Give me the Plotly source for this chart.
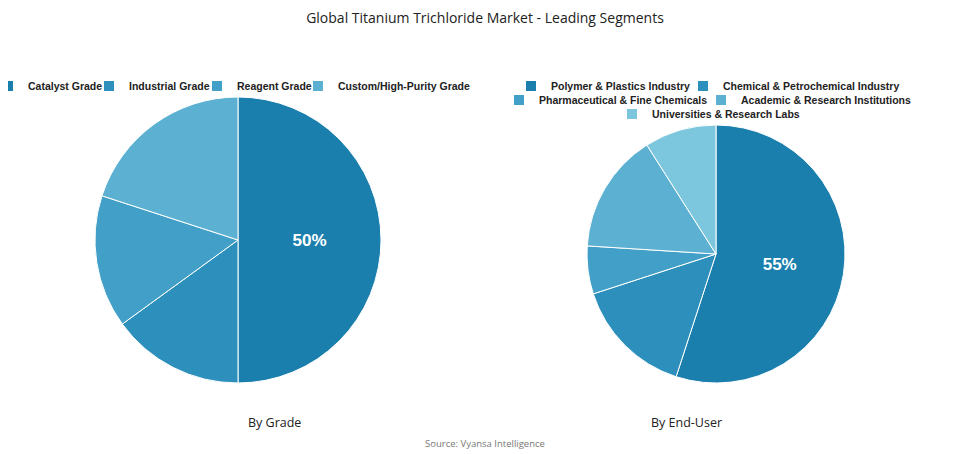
import plotly.graph_objects as go

grade_labels = ["Catalyst Grade", "Industrial Grade", "Reagent Grade", "Custom/High-Purity Grade"]
grade_values = [50, 15, 15, 20]
user_labels = ["Polymer & Plastics Industry", "Chemical & Petrochemical Industry",
               "Pharmaceutical & Fine Chemicals", "Academic & Research Institutions",
               "Universities & Research Labs"]
user_values = [55, 15, 6, 15, 9]

colors = ["#1b7fae", "#2d8fbb", "#42a0c8", "#5cb1d2", "#7cc6de"]

# left edge of each legend swatch (x) and its row (y), in pixels
grade_leg_pos = [(4, 87), (105, 87), (213, 87), (314, 87)]
user_leg_pos = [(527, 87), (699, 87), (515, 101), (717, 101), (628, 115)]

W, H = 955, 454
OX, OY = 8, 7  # pie domain offset seen in the render


def px(x):
    return x / W


def py(y):
    return 1 - y / H


def dom(x0, x1, y0, y1):
    return dict(x=[px(x0 - OX), px(x1 - OX)], y=[py(y1 - OY), py(y0 - OY)])


def first_only(vals):
    return ["%{percent:.0%}"] + [""] * (len(vals) - 1)


legfont = dict(size=10.5, color="#222", family="Liberation Sans")

fig = go.Figure()
fig.add_trace(go.Pie(
    labels=grade_labels, values=grade_values, sort=False, direction="clockwise",
    rotation=0, domain=dom(95, 381, 96, 382), marker=dict(colors=colors[:4], line=dict(color="white", width=1)),
    texttemplate=first_only(grade_values), textposition="inside",
    textfont=dict(size=17, color="white", family="Liberation Sans", weight="bold"), showlegend=False,
    hoverinfo="label+percent",
))
fig.add_trace(go.Pie(
    labels=user_labels, values=user_values, sort=False, direction="clockwise",
    rotation=0, domain=dom(587, 845, 124, 382), marker=dict(colors=colors, line=dict(color="white", width=1)),
    texttemplate=first_only(user_values), textposition="inside",
    textfont=dict(size=17, color="white", family="Liberation Sans", weight="bold"), showlegend=False,
    hoverinfo="label+percent",
))

# one small legend per entry so they can sit like the reference
legends = {}
entries = list(zip(grade_labels, colors, grade_leg_pos)) + list(zip(user_labels, colors, user_leg_pos))
for k, (label, col, (mx, ty)) in enumerate(entries):
    name = "legend" if k == 0 else "legend%d" % (k + 1)
    fig.add_trace(go.Scatter(
        x=[None], y=[None], mode="markers", name="<b>%s</b>" % label, legend=name,
        marker=dict(symbol="square", size=10, color=col),
    ))
    legends[name] = dict(orientation="h", x=px(mx - 24), y=py(ty - 9), xanchor="left",
                         yanchor="middle", font=legfont, itemwidth=30,
                         bgcolor="rgba(0,0,0,0)")

fig.update_layout(
    width=W, height=H, margin=dict(l=0, r=0, t=0, b=0, autoexpand=False),
    paper_bgcolor="white", plot_bgcolor="white",
    xaxis=dict(visible=False), yaxis=dict(visible=False),
    title=dict(text="Global Titanium Trichloride Market - Leading Segments", x=px(477), y=py(10),
               xanchor="center", yanchor="middle", font=dict(size=14, color="#222", family="Open Sans")),
    annotations=[
        dict(text="By Grade", x=px(238), y=py(425), xref="paper", yref="paper", showarrow=False,
             font=dict(size=12.5, color="#222", family="Open Sans")),
        dict(text="By End-User", x=px(716), y=py(425), xref="paper", yref="paper", showarrow=False,
             font=dict(size=12.5, color="#222", family="Open Sans")),
        dict(text="Source: Vyansa Intelligence", x=px(477), y=py(444), xref="paper", yref="paper",
             showarrow=False, font=dict(size=9.5, color="#777", family="Open Sans")),
    ],
    **legends,
)

fig.write_html("out.html")
